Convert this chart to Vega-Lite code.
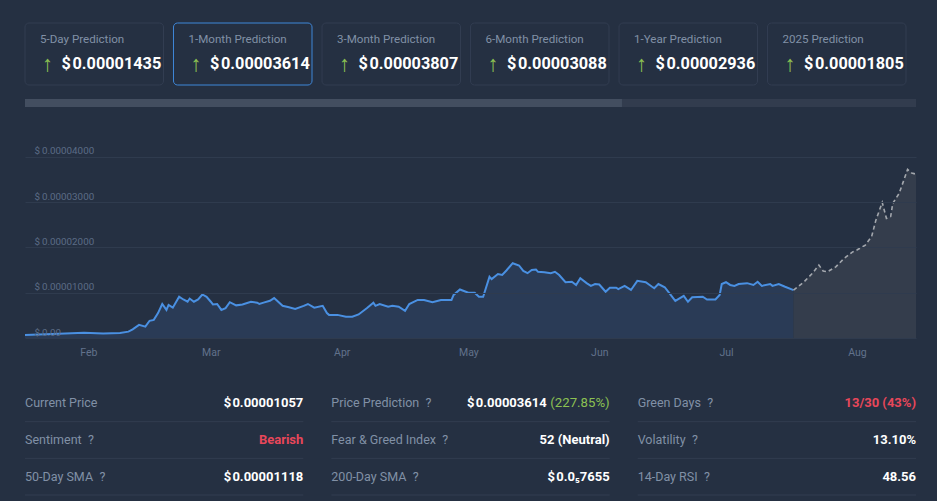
{
  "$schema": "https://vega.github.io/schema/vega-lite/v6.json",
  "background": "#253042",
  "padding": {"left": 21, "top": 22, "right": 21, "bottom": 7},
  "config": {"view": {"stroke": null}, "font": "Roboto", "axis": {"title": null}},
  "datasets": {
    "cards": [
      {"period": "5-Day Prediction", "value": "$\u200a0.00001435", "selected": false},
      {"period": "1-Month Prediction", "value": "$\u200a0.00003614", "selected": true},
      {"period": "3-Month Prediction", "value": "$\u200a0.00003807", "selected": false},
      {"period": "6-Month Prediction", "value": "$\u200a0.00003088", "selected": false},
      {"period": "1-Year Prediction", "value": "$\u200a0.00002936", "selected": false},
      {"period": "2025 Prediction", "value": "$\u200a0.00001805", "selected": false}
    ],
    "progress": [
      {"part": "track", "start": 0, "end": 1},
      {"part": "done", "start": 0, "end": 0.67}
    ],
    "stats": [
      {"col": 1, "row": 1, "label": "Current Price", "help": false, "value": "$\u200a0.00001057", "tone": "plain"},
      {"col": 1, "row": 2, "label": "Sentiment", "help": true, "value": "Bearish", "tone": "bad"},
      {"col": 1, "row": 3, "label": "50-Day SMA", "help": true, "value": "$\u200a0.00001118", "tone": "plain"},
      {"col": 2, "row": 1, "label": "Price Prediction", "help": true, "value": "$\u200a0.00003614", "extra": "(227.85%)", "tone": "plain"},
      {"col": 2, "row": 2, "label": "Fear & Greed Index", "help": true, "value": "52 (Neutral)", "tone": "plain"},
      {"col": 2, "row": 3, "label": "200-Day SMA", "help": true, "value": "$\u200a0.0\u20857655", "tone": "plain"},
      {"col": 3, "row": 1, "label": "Green Days", "help": true, "value": "13/30 (43%)", "tone": "bad"},
      {"col": 3, "row": 2, "label": "Volatility", "help": true, "value": "13.10%", "tone": "plain"},
      {"col": 3, "row": 3, "label": "14-Day RSI", "help": true, "value": "48.56", "tone": "plain"}
    ],
    "price": [
      {"date": "2024-01-17T00:00", "price": 6.6e-7, "kind": "history"},
      {"date": "2024-01-23T12:00", "price": 8.8e-7, "kind": "history"},
      {"date": "2024-01-31T00:00", "price": 1.17e-6, "kind": "history"},
      {"date": "2024-02-04T12:00", "price": 1.0e-6, "kind": "history"},
      {"date": "2024-02-08T12:00", "price": 1.1e-6, "kind": "history"},
      {"date": "2024-02-10T12:00", "price": 1.4e-6, "kind": "history"},
      {"date": "2024-02-11T12:00", "price": 1.9e-6, "kind": "history"},
      {"date": "2024-02-13T00:00", "price": 2.9e-6, "kind": "history"},
      {"date": "2024-02-14T12:00", "price": 2.5e-6, "kind": "history"},
      {"date": "2024-02-15T12:00", "price": 3.8e-6, "kind": "history"},
      {"date": "2024-02-16T12:00", "price": 4.0e-6, "kind": "history"},
      {"date": "2024-02-17T12:00", "price": 5.5e-6, "kind": "history"},
      {"date": "2024-02-18T12:00", "price": 7.5e-6, "kind": "history"},
      {"date": "2024-02-19T12:00", "price": 6.2e-6, "kind": "history"},
      {"date": "2024-02-20T00:00", "price": 7.3e-6, "kind": "history"},
      {"date": "2024-02-21T00:00", "price": 6.7e-6, "kind": "history"},
      {"date": "2024-02-22T12:00", "price": 9.1e-6, "kind": "history"},
      {"date": "2024-02-23T12:00", "price": 8.5e-6, "kind": "history"},
      {"date": "2024-02-24T12:00", "price": 8.0e-6, "kind": "history"},
      {"date": "2024-02-25T00:00", "price": 8.7e-6, "kind": "history"},
      {"date": "2024-02-26T00:00", "price": 8.0e-6, "kind": "history"},
      {"date": "2024-02-27T00:00", "price": 8.5e-6, "kind": "history"},
      {"date": "2024-02-28T00:00", "price": 9.6e-6, "kind": "history"},
      {"date": "2024-02-29T00:00", "price": 9.1e-6, "kind": "history"},
      {"date": "2024-03-01T00:00", "price": 8.0e-6, "kind": "history"},
      {"date": "2024-03-01T12:00", "price": 7.4e-6, "kind": "history"},
      {"date": "2024-03-02T12:00", "price": 7.5e-6, "kind": "history"},
      {"date": "2024-03-03T12:00", "price": 6.2e-6, "kind": "history"},
      {"date": "2024-03-04T12:00", "price": 6.6e-6, "kind": "history"},
      {"date": "2024-03-05T12:00", "price": 7.9e-6, "kind": "history"},
      {"date": "2024-03-07T00:00", "price": 7.2e-6, "kind": "history"},
      {"date": "2024-03-08T12:00", "price": 7.4e-6, "kind": "history"},
      {"date": "2024-03-10T12:00", "price": 8.0e-6, "kind": "history"},
      {"date": "2024-03-12T00:00", "price": 7.8e-6, "kind": "history"},
      {"date": "2024-03-12T12:00", "price": 7.5e-6, "kind": "history"},
      {"date": "2024-03-13T12:00", "price": 7.8e-6, "kind": "history"},
      {"date": "2024-03-15T00:00", "price": 8.2e-6, "kind": "history"},
      {"date": "2024-03-16T00:00", "price": 8.8e-6, "kind": "history"},
      {"date": "2024-03-18T00:00", "price": 7.1e-6, "kind": "history"},
      {"date": "2024-03-19T12:00", "price": 6.8e-6, "kind": "history"},
      {"date": "2024-03-21T00:00", "price": 6.4e-6, "kind": "history"},
      {"date": "2024-03-23T00:00", "price": 7.1e-6, "kind": "history"},
      {"date": "2024-03-24T00:00", "price": 7.5e-6, "kind": "history"},
      {"date": "2024-03-25T12:00", "price": 6.7e-6, "kind": "history"},
      {"date": "2024-03-27T12:00", "price": 7.1e-6, "kind": "history"},
      {"date": "2024-03-28T12:00", "price": 5.5e-6, "kind": "history"},
      {"date": "2024-03-29T00:00", "price": 5.1e-6, "kind": "history"},
      {"date": "2024-03-31T00:00", "price": 5.1e-6, "kind": "history"},
      {"date": "2024-04-02T00:00", "price": 4.7e-6, "kind": "history"},
      {"date": "2024-04-03T12:00", "price": 4.7e-6, "kind": "history"},
      {"date": "2024-04-05T00:00", "price": 5.2e-6, "kind": "history"},
      {"date": "2024-04-07T00:00", "price": 6.6e-6, "kind": "history"},
      {"date": "2024-04-08T12:00", "price": 7.8e-6, "kind": "history"},
      {"date": "2024-04-09T00:00", "price": 7.1e-6, "kind": "history"},
      {"date": "2024-04-10T00:00", "price": 7.5e-6, "kind": "history"},
      {"date": "2024-04-12T00:00", "price": 6.9e-6, "kind": "history"},
      {"date": "2024-04-13T00:00", "price": 7.1e-6, "kind": "history"},
      {"date": "2024-04-14T12:00", "price": 6.9e-6, "kind": "history"},
      {"date": "2024-04-16T00:00", "price": 6.0e-6, "kind": "history"},
      {"date": "2024-04-17T00:00", "price": 7.5e-6, "kind": "history"},
      {"date": "2024-04-19T00:00", "price": 8.4e-6, "kind": "history"},
      {"date": "2024-04-20T12:00", "price": 8.4e-6, "kind": "history"},
      {"date": "2024-04-22T12:00", "price": 7.9e-6, "kind": "history"},
      {"date": "2024-04-24T12:00", "price": 8.4e-6, "kind": "history"},
      {"date": "2024-04-27T00:00", "price": 8.4e-6, "kind": "history"},
      {"date": "2024-04-27T12:00", "price": 9.5e-6, "kind": "history"},
      {"date": "2024-04-29T00:00", "price": 1.07e-5, "kind": "history"},
      {"date": "2024-05-01T00:00", "price": 1.0e-5, "kind": "history"},
      {"date": "2024-05-02T12:00", "price": 1.0e-5, "kind": "history"},
      {"date": "2024-05-03T12:00", "price": 9.1e-6, "kind": "history"},
      {"date": "2024-05-04T12:00", "price": 9.1e-6, "kind": "history"},
      {"date": "2024-05-06T00:00", "price": 1.35e-5, "kind": "history"},
      {"date": "2024-05-06T12:00", "price": 1.3e-5, "kind": "history"},
      {"date": "2024-05-08T00:00", "price": 1.41e-5, "kind": "history"},
      {"date": "2024-05-09T00:00", "price": 1.39e-5, "kind": "history"},
      {"date": "2024-05-10T00:00", "price": 1.49e-5, "kind": "history"},
      {"date": "2024-05-11T12:00", "price": 1.65e-5, "kind": "history"},
      {"date": "2024-05-13T00:00", "price": 1.6e-5, "kind": "history"},
      {"date": "2024-05-14T00:00", "price": 1.48e-5, "kind": "history"},
      {"date": "2024-05-15T00:00", "price": 1.43e-5, "kind": "history"},
      {"date": "2024-05-16T00:00", "price": 1.5e-5, "kind": "history"},
      {"date": "2024-05-17T00:00", "price": 1.51e-5, "kind": "history"},
      {"date": "2024-05-17T12:00", "price": 1.46e-5, "kind": "history"},
      {"date": "2024-05-19T00:00", "price": 1.45e-5, "kind": "history"},
      {"date": "2024-05-20T12:00", "price": 1.43e-5, "kind": "history"},
      {"date": "2024-05-21T12:00", "price": 1.46e-5, "kind": "history"},
      {"date": "2024-05-22T12:00", "price": 1.39e-5, "kind": "history"},
      {"date": "2024-05-24T00:00", "price": 1.23e-5, "kind": "history"},
      {"date": "2024-05-25T12:00", "price": 1.24e-5, "kind": "history"},
      {"date": "2024-05-26T12:00", "price": 1.17e-5, "kind": "history"},
      {"date": "2024-05-27T12:00", "price": 1.32e-5, "kind": "history"},
      {"date": "2024-05-29T00:00", "price": 1.21e-5, "kind": "history"},
      {"date": "2024-05-30T00:00", "price": 1.15e-5, "kind": "history"},
      {"date": "2024-05-31T00:00", "price": 1.19e-5, "kind": "history"},
      {"date": "2024-06-01T00:00", "price": 1.18e-5, "kind": "history"},
      {"date": "2024-06-02T12:00", "price": 1.02e-5, "kind": "history"},
      {"date": "2024-06-03T12:00", "price": 1.11e-5, "kind": "history"},
      {"date": "2024-06-05T00:00", "price": 1.11e-5, "kind": "history"},
      {"date": "2024-06-05T12:00", "price": 1.08e-5, "kind": "history"},
      {"date": "2024-06-07T00:00", "price": 1.15e-5, "kind": "history"},
      {"date": "2024-06-08T12:00", "price": 1.06e-5, "kind": "history"},
      {"date": "2024-06-10T00:00", "price": 1.26e-5, "kind": "history"},
      {"date": "2024-06-12T00:00", "price": 1.23e-5, "kind": "history"},
      {"date": "2024-06-13T12:00", "price": 1.13e-5, "kind": "history"},
      {"date": "2024-06-14T00:00", "price": 1.1e-5, "kind": "history"},
      {"date": "2024-06-15T00:00", "price": 1.19e-5, "kind": "history"},
      {"date": "2024-06-16T12:00", "price": 1.12e-5, "kind": "history"},
      {"date": "2024-06-17T12:00", "price": 1.0e-5, "kind": "history"},
      {"date": "2024-06-19T00:00", "price": 8.2e-6, "kind": "history"},
      {"date": "2024-06-21T00:00", "price": 9.3e-6, "kind": "history"},
      {"date": "2024-06-22T00:00", "price": 8.0e-6, "kind": "history"},
      {"date": "2024-06-23T00:00", "price": 9.0e-6, "kind": "history"},
      {"date": "2024-06-25T12:00", "price": 9.1e-6, "kind": "history"},
      {"date": "2024-06-26T12:00", "price": 8.5e-6, "kind": "history"},
      {"date": "2024-06-28T12:00", "price": 8.5e-6, "kind": "history"},
      {"date": "2024-06-29T12:00", "price": 9.5e-6, "kind": "history"},
      {"date": "2024-06-30T00:00", "price": 1.19e-5, "kind": "history"},
      {"date": "2024-07-01T00:00", "price": 1.23e-5, "kind": "history"},
      {"date": "2024-07-02T00:00", "price": 1.17e-5, "kind": "history"},
      {"date": "2024-07-03T00:00", "price": 1.15e-5, "kind": "history"},
      {"date": "2024-07-04T00:00", "price": 1.19e-5, "kind": "history"},
      {"date": "2024-07-06T00:00", "price": 1.21e-5, "kind": "history"},
      {"date": "2024-07-07T12:00", "price": 1.17e-5, "kind": "history"},
      {"date": "2024-07-08T12:00", "price": 1.24e-5, "kind": "history"},
      {"date": "2024-07-09T12:00", "price": 1.15e-5, "kind": "history"},
      {"date": "2024-07-11T12:00", "price": 1.19e-5, "kind": "history"},
      {"date": "2024-07-12T00:00", "price": 1.15e-5, "kind": "history"},
      {"date": "2024-07-13T12:00", "price": 1.19e-5, "kind": "history"},
      {"date": "2024-07-15T00:00", "price": 1.13e-5, "kind": "history"},
      {"date": "2024-07-17T00:00", "price": 1.057e-5, "kind": "history"},
      {"date": "2024-07-17T00:00", "price": 1.057e-5, "kind": "forecast"},
      {"date": "2024-07-19T12:00", "price": 1.24e-5, "kind": "forecast"},
      {"date": "2024-07-21T12:00", "price": 1.43e-5, "kind": "forecast"},
      {"date": "2024-07-23T00:00", "price": 1.61e-5, "kind": "forecast"},
      {"date": "2024-07-24T00:00", "price": 1.48e-5, "kind": "forecast"},
      {"date": "2024-07-25T00:00", "price": 1.46e-5, "kind": "forecast"},
      {"date": "2024-07-27T00:00", "price": 1.57e-5, "kind": "forecast"},
      {"date": "2024-07-29T00:00", "price": 1.76e-5, "kind": "forecast"},
      {"date": "2024-07-31T00:00", "price": 1.9e-5, "kind": "forecast"},
      {"date": "2024-08-01T00:00", "price": 1.94e-5, "kind": "forecast"},
      {"date": "2024-08-03T00:00", "price": 2.05e-5, "kind": "forecast"},
      {"date": "2024-08-04T12:00", "price": 2.24e-5, "kind": "forecast"},
      {"date": "2024-08-05T12:00", "price": 2.6e-5, "kind": "forecast"},
      {"date": "2024-08-07T00:00", "price": 2.99e-5, "kind": "forecast"},
      {"date": "2024-08-08T00:00", "price": 2.64e-5, "kind": "forecast"},
      {"date": "2024-08-09T00:00", "price": 2.68e-5, "kind": "forecast"},
      {"date": "2024-08-09T12:00", "price": 2.97e-5, "kind": "forecast"},
      {"date": "2024-08-11T00:00", "price": 3.19e-5, "kind": "forecast"},
      {"date": "2024-08-12T00:00", "price": 3.45e-5, "kind": "forecast"},
      {"date": "2024-08-13T00:00", "price": 3.72e-5, "kind": "forecast"},
      {"date": "2024-08-14T00:00", "price": 3.64e-5, "kind": "forecast"},
      {"date": "2024-08-15T00:00", "price": 3.614e-5, "kind": "forecast"}
    ]
  },
  "spacing": 33,
  "vconcat": [
    {
      "spacing": 13,
      "vconcat": [
        {
          "width": 881,
          "height": 62,
          "data": {"name": "cards"},
          "layer": [
            {
              "mark": {"type": "rect", "fill": "#253042", "cornerRadius": 4, "strokeWidth": 1},
              "encoding": {
                "x": {"field": "period", "type": "nominal", "sort": null, "axis": null, "scale": {"paddingInner": 0.0673, "paddingOuter": 0}},
                "stroke": {"condition": {"test": "datum.selected", "value": "#3f87d8"}, "value": "#323d51"}
              }
            },
            {
              "mark": {"type": "text", "align": "left", "baseline": "middle", "dx": 15, "dy": -14, "fontSize": 11.6, "color": "#8190a6"},
              "encoding": {
                "x": {"field": "period", "type": "nominal", "sort": null, "bandPosition": 0},
                "text": {"field": "period"}
              }
            },
            {
              "mark": {"type": "text", "text": "\u2191", "align": "center", "baseline": "middle", "dx": 22.5, "dy": 10, "fontSize": 22, "fontWeight": "bold", "color": "#8cc152"},
              "encoding": {
                "x": {"field": "period", "type": "nominal", "sort": null, "bandPosition": 0}
              }
            },
            {
              "mark": {"type": "text", "align": "left", "baseline": "middle", "dx": 36.5, "dy": 10, "fontSize": 16.3, "fontWeight": "bold", "color": "#ffffff"},
              "encoding": {
                "x": {"field": "period", "type": "nominal", "sort": null, "bandPosition": 0},
                "text": {"field": "value"}
              }
            }
          ]
        },
        {
          "width": 891,
          "height": 8,
          "data": {"name": "progress"},
          "mark": {"type": "rect"},
          "encoding": {
            "x": {"field": "start", "type": "quantitative", "scale": {"domain": [0, 1]}, "axis": null},
            "x2": {"field": "end"},
            "color": {"field": "part", "type": "nominal", "scale": {"domain": ["track", "done"], "range": ["#323c4e", "#434e60"]}, "legend": null}
          }
        }
      ]
    },
    {
      "spacing": 27,
      "vconcat": [
        {
          "width": 891,
          "height": 198,
          "data": {"name": "price"},
          "encoding": {
            "x": {
              "field": "date", "type": "temporal",
              "scale": {"domain": ["2024-01-17T00:00", "2024-08-15T00:00"]},
              "axis": {"format": "%b", "tickCount": {"interval": "month", "step": 1}, "domain": false, "ticks": false, "grid": false, "labelColor": "#62728c", "labelFontSize": 10.5, "labelPadding": 9}
            },
            "y": {
              "field": "price", "type": "quantitative",
              "scale": {"domain": [0, 4.368e-5], "nice": false},
              "axis": {
                "values": [0, 1e-5, 2e-5, 3e-5, 4e-5],
                "labelExpr": "datum.value == 0 ? '$\u20090.00' : '$\u2009' + format(datum.value, '.8f')",
                "labelAlign": "left", "labelBaseline": "alphabetic", "labelPadding": -9, "labelOffset": -3,
                "labelColor": "#5c6c86", "labelFontSize": 9.8,
                "domain": false, "ticks": false, "gridColor": "#2f3b4e", "zindex": 1
              }
            }
          },
          "layer": [
            {"transform": [{"filter": "datum.kind == 'history'"}], "mark": {"type": "area", "color": "#2a3b56", "opacity": 1}},
            {"transform": [{"filter": "datum.kind == 'forecast'"}], "mark": {"type": "area", "color": "#343d4c", "opacity": 1}},
            {"transform": [{"filter": "datum.kind == 'history'"}], "mark": {"type": "line", "color": "#4a90e2", "strokeWidth": 2}},
            {"transform": [{"filter": "datum.kind == 'forecast'"}], "mark": {"type": "line", "color": "#a3a7ad", "strokeWidth": 1.6, "strokeDash": [4, 3]}}
          ]
        },
        {
          "width": 891,
          "height": 110,
          "data": {"name": "stats"},
          "encoding": {
            "y": {"field": "row", "type": "ordinal", "axis": null, "scale": {"paddingInner": 0, "paddingOuter": 0}}
          },
          "layer": [
            {
              "mark": {"type": "rule", "color": "#323d50", "strokeWidth": 1},
              "encoding": {
                "x": {"field": "col", "type": "ordinal", "bandPosition": 0, "axis": null, "scale": {"paddingInner": 0.0915, "paddingOuter": 0}},
                "x2": {"field": "col", "bandPosition": 1},
                "y": {"field": "row", "type": "ordinal", "bandPosition": 1}
              }
            },
            {
              "transform": [{"calculate": "datum.help ? datum.label + '\u2002?' : datum.label", "as": "labelText"}],
              "mark": {"type": "text", "align": "left", "baseline": "middle", "fontSize": 12.5, "color": "#8190a6"},
              "encoding": {
                "x": {"field": "col", "type": "ordinal", "bandPosition": 0},
                "text": {"field": "labelText"}
              }
            },
            {
              "transform": [{"filter": "!datum.extra"}],
              "mark": {"type": "text", "align": "right", "baseline": "middle", "fontSize": 13, "fontWeight": "bold"},
              "encoding": {
                "x": {"field": "col", "type": "ordinal", "bandPosition": 1},
                "text": {"field": "value"},
                "color": {"condition": {"test": "datum.tone == 'bad'", "value": "#e8475a"}, "value": "#ffffff"}
              }
            },
            {
              "transform": [{"filter": "datum.extra"}],
              "mark": {"type": "text", "align": "right", "baseline": "middle", "fontSize": 13, "fontWeight": "bold", "dx": -63, "color": "#ffffff"},
              "encoding": {
                "x": {"field": "col", "type": "ordinal", "bandPosition": 1},
                "text": {"field": "value"}
              }
            },
            {
              "transform": [{"filter": "datum.extra"}],
              "mark": {"type": "text", "align": "right", "baseline": "middle", "fontSize": 13.2, "color": "#8cc152"},
              "encoding": {
                "x": {"field": "col", "type": "ordinal", "bandPosition": 1},
                "text": {"field": "extra"}
              }
            }
          ]
        }
      ]
    }
  ]
}
